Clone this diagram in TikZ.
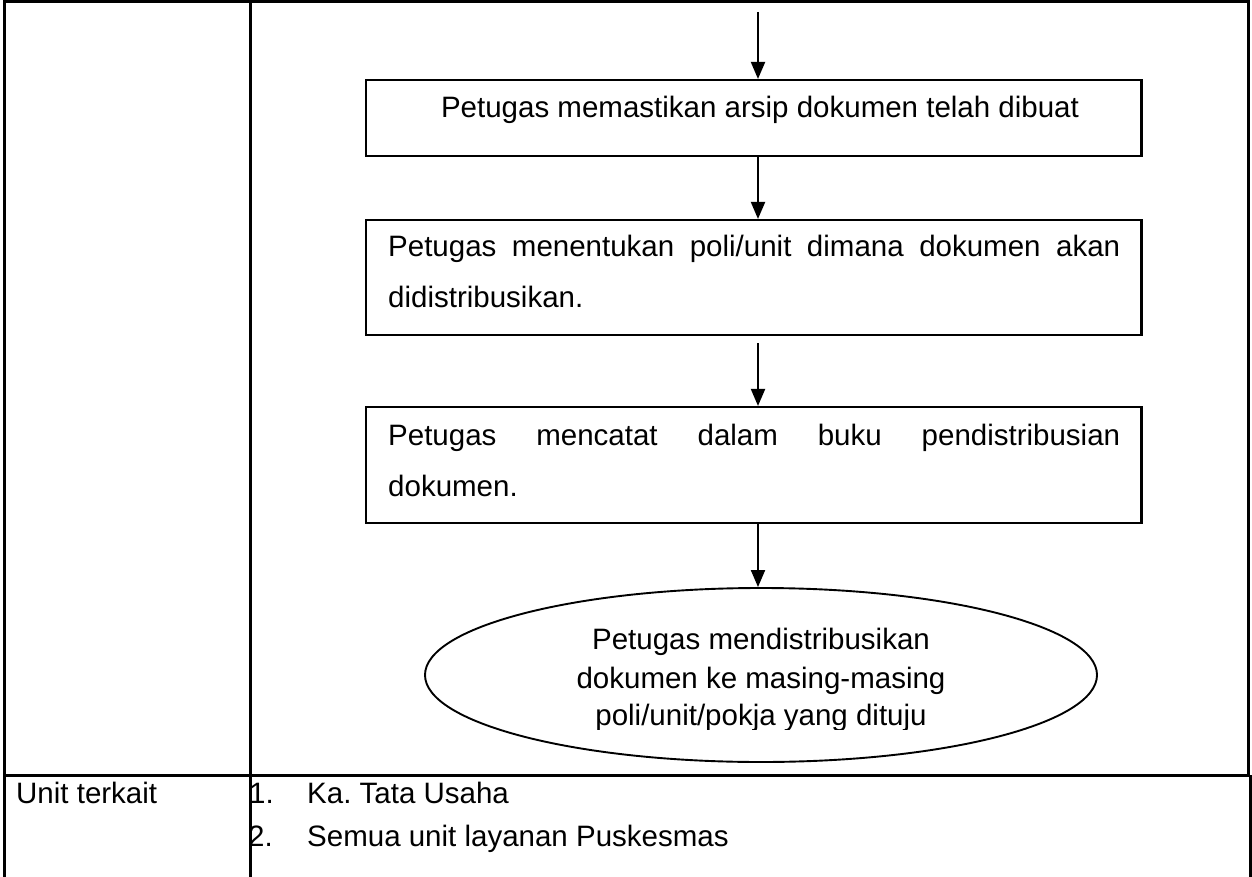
\documentclass[tikz,border=0pt]{standalone}
\usepackage{fontspec}
\setmainfont{Liberation Sans}
\usetikzlibrary{shapes.geometric,arrows.meta}
\frenchspacing
\begin{document}
\frenchspacing
\begin{tikzpicture}[x=1pt,y=-1pt,
  tline/.style={line width=3pt},
  stepbox/.style={draw,line width=2.1pt,rectangle,inner sep=0pt},
  endbox/.style={draw,line width=1.9pt,ellipse,inner sep=0pt},
  txt/.style={inner sep=0pt,font=\fontsize{29.5}{36}\selectfont},
  arr/.style={line width=2pt,-{Triangle[length=17pt,width=14pt]}}]
\useasboundingbox (0,0) rectangle (1252,877);
\fill[white] (0,0) rectangle (1252,877);
% table
\draw[tline] (4,1.3) -- (1248,1.3);
\draw[tline] (4,0) -- (4,877);
\draw[tline] (250,0) -- (250,877);
\draw[tline] (1248,0) -- (1248,775);
\draw[tline] (1250.3,775) -- (1250.3,877);
\draw[tline] (4,775) -- (1250.3,775);
% boxes
\node[stepbox,minimum width=775.5pt,minimum height=76pt] (b1) at (753.75,118) {};
\node[stepbox,minimum width=775.5pt,minimum height=115pt] (b2) at (753.75,277.5) {};
\node[stepbox,minimum width=775.5pt,minimum height=116pt] (b3) at (753.75,465) {};
\node[endbox,minimum width=672pt,minimum height=174pt] (e) at (761,675) {};
% texts
\node[txt,anchor=base] (t1) at (760,118) {Petugas memastikan arsip dokumen telah dibuat};
\node[txt,anchor=base west] (t2a) at (388,257) {\makebox[732pt][s]{Petugas menentukan poli/unit dimana dokumen akan}};
\node[txt,anchor=base west] (t2b) at (388,307) {didistribusikan.};
\node[txt,anchor=base west] (t3a) at (388,445) {\makebox[732pt][s]{Petugas mencatat dalam buku pendistribusian}};
\node[txt,anchor=base west] (t3b) at (388,496) {dokumen.};
\begin{scope}
\clip (0,0) rectangle (1252,729);
\node[txt,anchor=base] (t4a) at (761,649) {Petugas mendistribusikan};
\node[txt,anchor=base] (t4b) at (761,688) {dokumen ke masing-masing};
\node[txt,anchor=base] (t4c) at (761,725) {poli/unit/pokja yang dituju};
\end{scope}
\node[txt,anchor=base west] (u) at (16,803) {Unit terkait};
\node[txt,anchor=base west] (n1) at (249,803) {1.};
\node[txt,anchor=base west] (l1) at (307,803) {Ka. Tata Usaha};
\node[txt,anchor=base west] (n2) at (248,846) {2.};
\node[txt,anchor=base west] (l2) at (307,846) {Semua unit layanan Puskesmas};
% arrows
\coordinate (top) at (758,12);
\draw[arr] (top) -- (top |- b1.north);
\draw[arr] (b1.south -| top) -- (b2.north -| top);
\draw[arr,shorten <=7pt] (b2.south -| top) -- (b3.north -| top);
\draw[arr] (b3.south -| top) -- (e.north -| top);
\end{tikzpicture}
\end{document}
